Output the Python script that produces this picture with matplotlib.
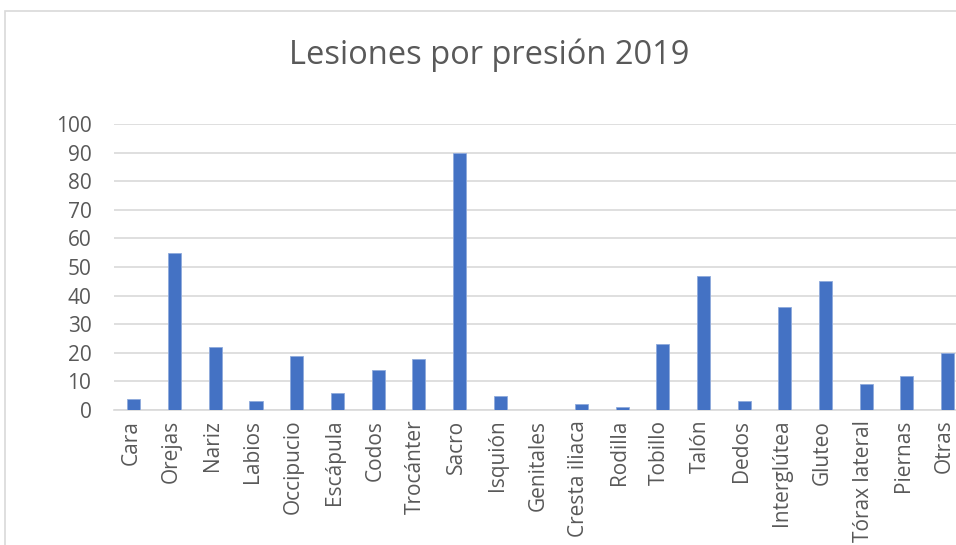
import matplotlib
matplotlib.use("Agg")
import matplotlib.pyplot as plt
import matplotlib.transforms as mtransforms
from matplotlib.patches import Rectangle

categories = ["Cara", "Orejas", "Nariz", "Labios", "Occipucio", "Escápula", "Codos",
              "Trocánter", "Sacro", "Isquión", "Genitales", "Cresta iliaca", "Rodilla",
              "Tobillo", "Talón", "Dedos", "Interglútea", "Gluteo", "Tórax lateral",
              "Piernas", "Otras"]
values = [4, 55, 22, 3, 19, 6, 14, 18, 90, 5, 0, 2, 1, 23, 47, 3, 36, 45, 9, 12, 20]
title = "Lesiones por presión 2019"

plt.rcParams["font.family"] = ["Open Sans", "DejaVu Sans"]
text_color = "#595959"

W, H = 956, 545
fig = plt.figure(figsize=(W / 100, H / 100), dpi=100)

# chart frame
fig.patches.append(Rectangle((5 / W, -0.1), 1.2, (H - 11) / H + 0.1,
                             transform=fig.transFigure, fill=False,
                             edgecolor="#d9d9d9", linewidth=1.2))

left, right = 113.6, 968.0
ax = fig.add_axes([left / W, (H - 410) / H, (right - left) / W, 286 / H])
x = range(len(categories))
ax.bar(x, values, width=0.32, color="#4472c4", edgecolor="#8faadc", linewidth=0.6, zorder=3)
ax.set_xlim(-0.5, len(categories) - 0.5)
ax.set_ylim(0, 100)
ax.set_yticks(range(0, 101, 10))
ax.set_xticks(list(x))
ax.set_xticklabels(categories, rotation=90, fontsize=15, color=text_color)
ax.tick_params(axis="y", labelsize=15, labelcolor=text_color, length=0, pad=16)
ax.tick_params(axis="x", length=0, pad=7)
ax.grid(axis="y", color="#d9d9d9", linewidth=1.2, zorder=0)
for s in ["top", "right", "left"]:
    ax.spines[s].set_visible(False)
ax.spines["bottom"].set_color("#d9d9d9")
ax.spines["bottom"].set_linewidth(1.2)

# nudge the rotated category labels slightly left of the bar centres
shift = mtransforms.ScaledTranslation(-3 / 100, 0, fig.dpi_scale_trans)
for lbl in ax.get_xticklabels():
    lbl.set_transform(lbl.get_transform() + shift)

fig.text(489 / W, 1 - 55 / H, title, ha="center", va="center", fontsize=23.5,
         color=text_color)

fig.savefig("out.png", dpi=100)
